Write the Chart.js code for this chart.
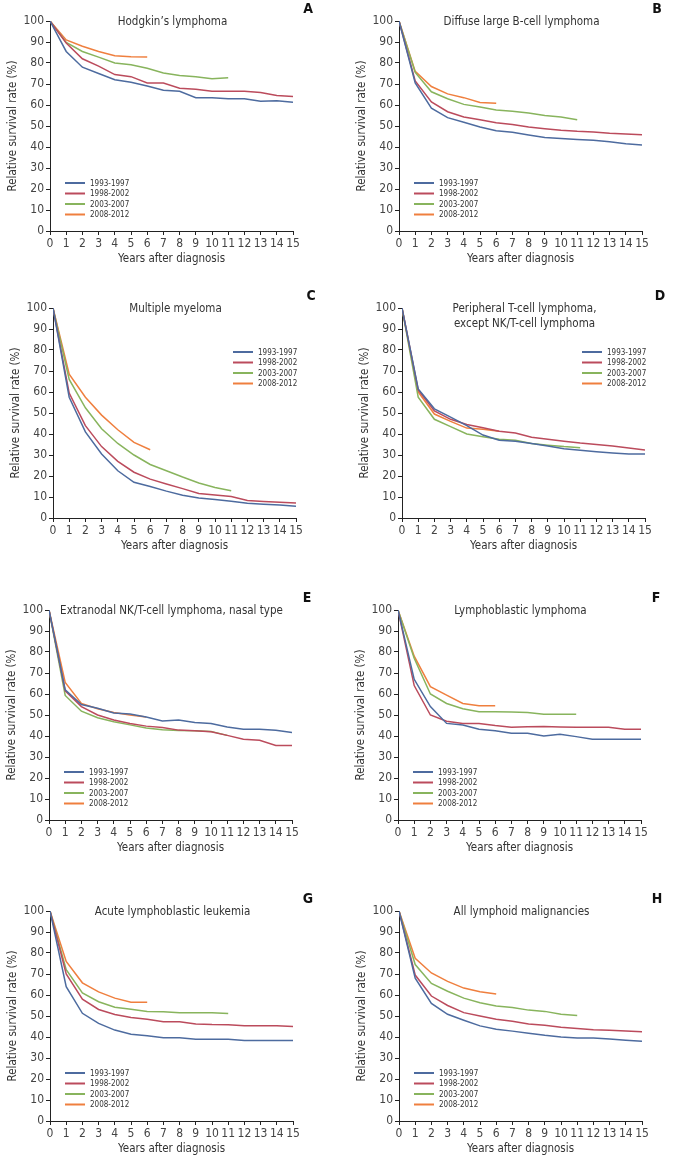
<!DOCTYPE html>
<html lang="en">
  <head>
    <meta charset="UTF-8" />
    <title>Relative survival by lymphoid malignancy</title>
    <script src="https://cdn.jsdelivr.net/npm/chart.js@4.4.1/dist/chart.umd.min.js"></script>
    <style>
      body {
        margin: 0;
        width: 677px;
        height: 1159px;
        background: #fff;
        position: relative;
        overflow: hidden;
      }
      .panel {
        position: absolute;
      }
    </style>
  </head>
  <body>
    <div id="panels"></div>

    <script>
      const years = [0, 1, 2, 3, 4, 5, 6, 7, 8, 9, 10, 11, 12, 13, 14, 15];
      const periods = ["1993-1997", "1998-2002", "2003-2007", "2008-2012"];
      const yTicks = [0, 10, 20, 30, 40, 50, 60, 70, 80, 90, 100];

      // A - Hodgkin's lymphoma
      const hodgkin9397 = [100, 85.5, 78, 75, 72, 70.8, 69, 67, 66.5, 63.5, 63.5, 63, 63, 61.8, 62, 61.3];
      const hodgkin9802 = [100, 89.5, 82, 78.5, 74.5, 73.5, 70.5, 70.5, 68, 67.5, 66.5, 66.5, 66.5, 66, 64.5, 64];
      const hodgkin0307 = [100, 89.8, 85.5, 82.8, 80, 79.2, 77.5, 75.2, 74, 73.5, 72.5, 73];
      const hodgkin0812 = [100, 91, 88, 85.5, 83.5, 83, 82.8];

      // B - Diffuse large B-cell lymphoma
      const dlbcl9397 = [100, 70.5, 58.5, 54, 51.8, 49.5, 47.7, 47, 45.7, 44.5, 44, 43.6, 43.2, 42.5, 41.5, 41];
      const dlbcl9802 = [100, 71.5, 61.5, 56.8, 54.3, 53, 51.5, 50.7, 49.5, 48.7, 48, 47.5, 47.2, 46.6, 46.2, 45.8];
      const dlbcl0307 = [100, 75.5, 66.3, 63, 60.3, 59, 57.6, 57, 56.2, 55, 54.3, 53];
      const dlbcl0812 = [100, 76, 68.8, 65.3, 63.5, 61.2, 60.8];

      // C - Multiple myeloma
      const myeloma9397 = [100, 57.5, 41, 30.5, 22.5, 17, 15, 12.8, 10.8, 9.5, 8.8, 8, 7, 6.6, 6.2, 5.6];
      const myeloma9802 = [100, 59.5, 44, 34, 27, 21.8, 18.5, 16.2, 14, 11.7, 11, 10.2, 8.3, 7.9, 7.5, 7.1];
      const myeloma0307 = [100, 66, 52.5, 42.5, 35.5, 30, 25.5, 22.5, 19.5, 16.7, 14.5, 13];
      const myeloma0812 = [100, 68.5, 57.5, 49, 42, 36, 32.5];

      // D - Peripheral T-cell lymphoma
      const ptcl9397 = [100, 61.5, 52, 48, 44, 39.5, 37, 36.5, 35.5, 34.3, 33, 32.3, 31.6, 31, 30.5, 30.5];
      const ptcl9802 = [100, 61, 51, 47, 44.5, 43, 41.3, 40.5, 38.5, 37.5, 36.6, 35.7, 35, 34.3, 33.3, 32.4];
      const ptcl0307 = [100, 57.5, 47, 43.5, 40, 38.7, 37.5, 37, 35.5, 34.7, 34, 33.5];
      const ptcl0812 = [100, 60, 49.5, 46, 42.8, 42.3, 41.3];

      // E - Extranodal NK/T-cell lymphoma
      const nkt9397 = [100, 62, 55, 53.2, 51, 50.5, 49, 47.2, 47.6, 46.4, 46, 44.3, 43.2, 43.2, 42.7, 41.7];
      const nkt9802 = [100, 61.5, 54, 50, 47.6, 46, 44.7, 44, 42.8, 42.5, 42, 40.3, 38.5, 38, 35.5, 35.5];
      const nkt0307 = [100, 59.3, 51.8, 48.7, 46.8, 45.3, 43.8, 43, 42.6, 42.5, 42.2, 40.3];
      const nkt0812 = [100, 65.5, 55.5, 53, 51.2, 50, 49];

      // F - Lymphoblastic lymphoma
      const lbl9397 = [100, 67, 54, 46, 45.2, 43.2, 42.5, 41.3, 41.3, 40, 40.8, 39.7, 38.5, 38.5, 38.5, 38.5];
      const lbl9802 = [100, 64, 50, 47, 46, 46, 45, 44.2, 44.4, 44.5, 44.3, 44.2, 44.2, 44.2, 43.2, 43.2];
      const lbl0307 = [100, 77, 60, 55.5, 53, 51.6, 51.5, 51.4, 51.2, 50.4, 50.4, 50.4];
      const lbl0812 = [100, 78, 63.5, 59.5, 55.5, 54.4, 54.4];

      // G - Acute lymphoblastic leukemia
      const all9397 = [100, 64, 51.3, 46.5, 43.3, 41.3, 40.6, 39.6, 39.6, 38.9, 38.9, 38.9, 38.3, 38.3, 38.3, 38.3];
      const all9802 = [100, 70, 58, 53.1, 50.7, 49.3, 48.5, 47.3, 47.3, 46.2, 45.9, 45.8, 45.4, 45.4, 45.4, 45];
      const all0307 = [100, 72, 61, 56.8, 54.2, 53.2, 52.2, 52, 51.5, 51.5, 51.5, 51.2];
      const all0812 = [100, 76, 65.8, 61.5, 58.5, 56.6, 56.6];

      // H - All lymphoid malignancies
      const lymphoid9397 = [100, 68, 56, 50.8, 48, 45.3, 43.7, 42.8, 41.8, 40.8, 40, 39.5, 39.5, 39, 38.5, 38];
      const lymphoid9802 = [100, 69.5, 59.5, 55, 51.6, 50, 48.5, 47.5, 46.2, 45.6, 44.6, 44, 43.5, 43.2, 42.8, 42.5];
      const lymphoid0307 = [100, 74.5, 65.5, 61.8, 58.5, 56.3, 54.8, 54, 52.8, 52.2, 50.8, 50.2];
      const lymphoid0812 = [100, 77.5, 70.5, 66.5, 63.3, 61.5, 60.5];

      const colors = ["#4d6b9f", "#bb4b5c", "#88b45d", "#ef7f3e"];
      const FONT = "'DejaVu Sans Condensed', 'DejaVu Sans', sans-serif";

      const panels = [
        { letter: "A", title: ["Hodgkin\u2019s lymphoma"], x: 0, y: 0, legend: "left", series: [hodgkin9397, hodgkin9802, hodgkin0307, hodgkin0812] },
        { letter: "B", title: ["Diffuse large B-cell lymphoma"], x: 349, y: 0, legend: "left", series: [dlbcl9397, dlbcl9802, dlbcl0307, dlbcl0812] },
        { letter: "C", title: ["Multiple myeloma"], x: 3, y: 287, legend: "right", series: [myeloma9397, myeloma9802, myeloma0307, myeloma0812] },
        { letter: "D", title: ["Peripheral T-cell lymphoma,", "except NK/T-cell lymphoma"], x: 352, y: 287, legend: "right", series: [ptcl9397, ptcl9802, ptcl0307, ptcl0812] },
        { letter: "E", title: ["Extranodal NK/T-cell lymphoma, nasal type"], x: -1, y: 589, legend: "left", series: [nkt9397, nkt9802, nkt0307, nkt0812] },
        { letter: "F", title: ["Lymphoblastic lymphoma"], x: 348, y: 589, legend: "left", series: [lbl9397, lbl9802, lbl0307, lbl0812] },
        { letter: "G", title: ["Acute lymphoblastic leukemia"], x: 0, y: 890, legend: "left", series: [all9397, all9802, all0307, all0812] },
        { letter: "H", title: ["All lymphoid malignancies"], x: 349, y: 890, legend: "left", series: [lymphoid9397, lymphoid9802, lymphoid0307, lymphoid0812] },
      ];

      // panel decorations: title, letter and legend inside the plot area
      const decorPlugin = {
        id: "decor",
        afterDraw(chart, args, opts) {
          const { ctx, chartArea } = chart;
          ctx.save();
          ctx.fillStyle = "#333";
          ctx.textAlign = "center";
          ctx.textBaseline = "middle";
          ctx.font = "11.5px " + FONT;
          const cx = (chartArea.left + chartArea.right) / 2 + 1;
          opts.title.forEach((t, i) => ctx.fillText(t, cx, chartArea.top + 1 + i * 15));

          ctx.font = "bold 14px " + FONT;
          ctx.fillStyle = "#111";
          ctx.fillText(opts.letter, chartArea.right + 15, chartArea.top - 12);

          const lx = opts.legend === "left" ? chartArea.left + 15 : chartArea.left + 180;
          const ly = opts.legend === "left" ? chartArea.bottom - 48 : chartArea.top + 44;
          ctx.font = "8px " + FONT;
          ctx.textAlign = "left";
          periods.forEach((p, i) => {
            const yy = ly + i * 10.5;
            ctx.strokeStyle = colors[i];
            ctx.lineWidth = 2;
            ctx.beginPath();
            ctx.moveTo(lx, yy);
            ctx.lineTo(lx + 20, yy);
            ctx.stroke();
            ctx.fillStyle = "#333";
            ctx.fillText(p, lx + 25, yy + 0.5);
          });
          ctx.restore();
        },
      };

      const root = document.getElementById("panels");
      panels.forEach((p) => {
        const div = document.createElement("div");
        div.className = "panel";
        div.style.left = p.x + "px";
        div.style.top = p.y + "px";
        const canvas = document.createElement("canvas");
        canvas.width = 330;
        canvas.height = 271;
        div.appendChild(canvas);
        root.appendChild(div);

        new Chart(canvas.getContext("2d"), {
          type: "line",
          data: {
            datasets: p.series.map((vals, i) => ({
              label: periods[i],
              data: vals.map((v, j) => ({ x: years[j], y: v })),
              borderColor: colors[i],
              borderWidth: 1.5,
              pointRadius: 0,
              tension: 0,
              fill: false,
            })),
          },
          options: {
            responsive: false,
            animation: false,
            devicePixelRatio: 1,
            layout: { padding: { top: 21, right: 37, left: 0, bottom: 0 } },
            plugins: {
              legend: { display: false },
              tooltip: { enabled: false },
              decor: { title: p.title, letter: p.letter, legend: p.legend },
            },
            scales: {
              x: {
                type: "linear",
                min: 0,
                max: 15,
                afterFit(scale) {
                  scale.height = 40;
                },
                afterBuildTicks(scale) {
                  scale.ticks = years.map((v) => ({ value: v }));
                },
                ticks: { autoSkip: false, maxRotation: 0, minRotation: 0, color: "#444", padding: 2, font: { family: FONT, size: 12 } },
                grid: { display: true, drawOnChartArea: false, drawTicks: true, tickLength: 4, color: "#222" },
                border: { display: true, color: "#222", width: 1 },
                title: { display: true, text: "Years after diagnosis", color: "#333", font: { family: FONT, size: 11.5 }, padding: { top: 0, bottom: 5 } },
              },
              y: {
                min: 0,
                max: 100,
                afterFit(scale) {
                  scale.width = 50;
                },
                afterBuildTicks(scale) {
                  scale.ticks = yTicks.map((v) => ({ value: v }));
                },
                ticks: { color: "#444", padding: 2, font: { family: FONT, size: 12 } },
                grid: { display: true, drawOnChartArea: false, drawTicks: true, tickLength: 4, color: "#222" },
                border: { display: true, color: "#222", width: 1 },
                title: { display: true, text: "Relative survival rate (%)", color: "#333", font: { family: FONT, size: 11.5 }, padding: { top: 6, bottom: 0 } },
              },
            },
          },
          plugins: [decorPlugin],
        });
      });
    </script>
  </body>
</html>
